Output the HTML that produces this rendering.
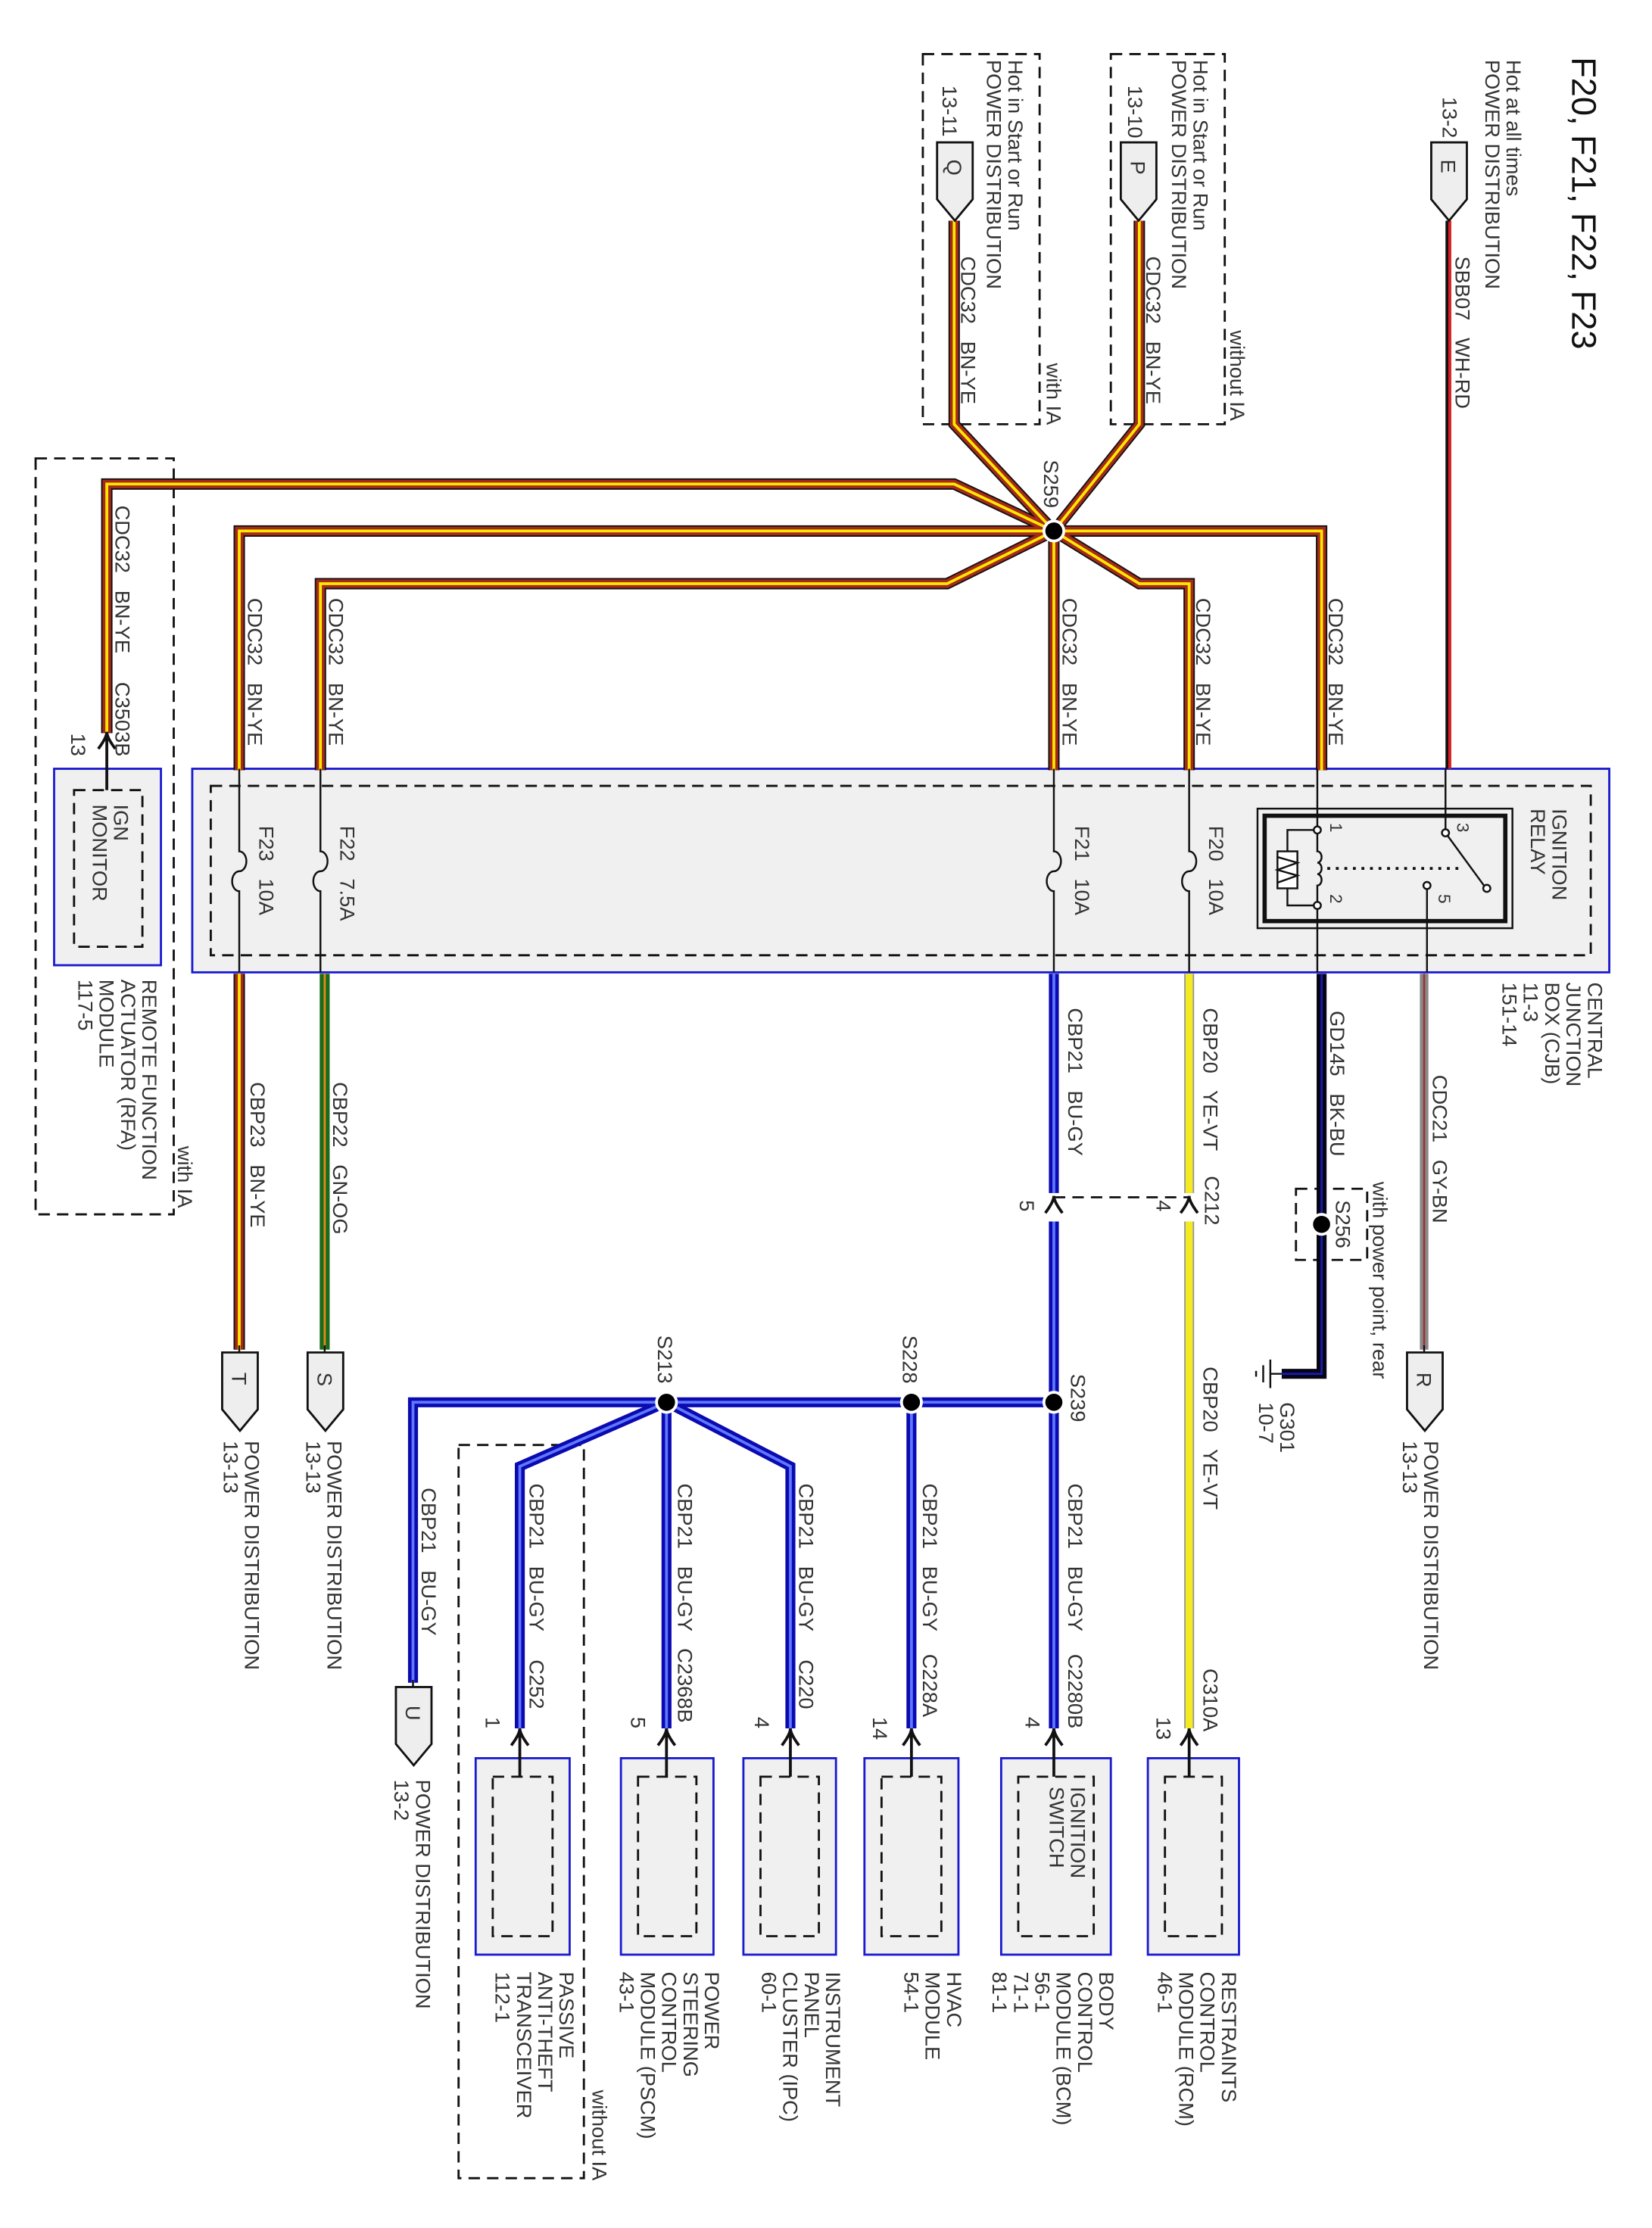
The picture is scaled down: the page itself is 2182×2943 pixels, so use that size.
<!DOCTYPE html>
<html><head><meta charset="utf-8"><style>
html,body{margin:0;padding:0;background:#fff}
svg{display:block}
text{font-family:"Liberation Sans",sans-serif;font-size:14.5px;fill:#333;white-space:pre}
.bo{fill:none;stroke:#111;stroke-width:8}
.bm{fill:none;stroke:#a52a1a;stroke-width:6}
.bi{fill:none;stroke:#ffe800;stroke-width:2}
.uo{fill:none;stroke:#0a0ab0;stroke-width:7}
.ui{fill:none;stroke:#5f78ff;stroke-width:2}
.yo{fill:none;stroke:#999;stroke-width:7}
.yi{fill:none;stroke:#f4ea20;stroke-width:5}
.thin{fill:none;stroke:#111;stroke-width:1.3}
.dash{fill:none;stroke:#111;stroke-width:1.5;stroke-dasharray:8 5}
.pent{fill:#eee;stroke:#111;stroke-width:1.5}
.mod{fill:#f0f0f0;stroke:#1a1ad0;stroke-width:1.5}
</style></head><body>
<svg width="2182" height="2943" viewBox="0 0 1160 1565" preserveAspectRatio="none" xmlns="http://www.w3.org/2000/svg" xml:space="preserve">
<defs>
<path id="w1" d="M800 155 V298 L740 373"/>
<path id="w2" d="M670 155 V298 L740 373"/>
<path id="w3" d="M740 373 L670 340 H75 V515"/>
<path id="w4" d="M740 373 H928 V541"/>
<path id="w5" d="M740 373 L800 410 H835 V541"/>
<path id="w6" d="M740 373 V541"/>
<path id="w7" d="M740 373 L665 410 H225 V541"/>
<path id="w8" d="M740 373 H168 V541"/>
<path id="w9" d="M168 684 V948"/>
<path id="u1" d="M740 684 V838 M740 858 V1214"/>
<path id="u2" d="M740 985 H290 V1182"/>
<path id="u3" d="M640 985 V1214"/>
<path id="u4" d="M468 985 L555 1030 V1214"/>
<path id="u5" d="M468 985 V1214"/>
<path id="u6" d="M468 985 L365 1030 V1214"/>
</defs>

<rect x="135" y="540" width="995" height="143" fill="#f0f0f0" stroke="#1a1ad0" stroke-width="1.5"/>
<rect x="148" y="552" width="969" height="119" class="dash" stroke-width="2"/>
<rect x="38" y="540" width="75" height="138" class="mod"/>
<rect x="52" y="555" width="48" height="110" class="dash"/>

<rect x="780" y="38" width="80" height="260" class="dash"/>
<rect x="648" y="38" width="82" height="260" class="dash"/>
<rect x="25" y="322" width="97" height="531" class="dash"/>
<rect x="910" y="835" width="50" height="50" class="dash"/>
<rect x="322" y="1015" width="88" height="515" class="dash"/>
<path d="M740 841 H835" class="dash"/>

<g class="bo"><use href="#w1"/><use href="#w2"/><use href="#w3"/><use href="#w4"/><use href="#w5"/><use href="#w6"/><use href="#w7"/><use href="#w8"/><use href="#w9"/></g>
<g class="bm"><use href="#w1"/><use href="#w2"/><use href="#w3"/><use href="#w4"/><use href="#w5"/><use href="#w6"/><use href="#w7"/><use href="#w8"/><use href="#w9"/></g>
<g class="bi"><use href="#w1"/><use href="#w2"/><use href="#w3"/><use href="#w4"/><use href="#w5"/><use href="#w6"/><use href="#w7"/><use href="#w8"/><use href="#w9"/></g>
<g class="uo"><use href="#u1"/><use href="#u2"/><use href="#u3"/><use href="#u4"/><use href="#u5"/><use href="#u6"/></g>
<g class="ui"><use href="#u1"/><use href="#u2"/><use href="#u3"/><use href="#u4"/><use href="#u5"/><use href="#u6"/></g>
<path d="M835 684 V838 M835 858 V1214" class="yo"/><path d="M835 684 V838 M835 858 V1214" class="yi"/>
<path d="M228 684 V948" fill="none" stroke="#1a6a1a" stroke-width="7"/><path d="M228 684 V948" fill="none" stroke="#e08a20" stroke-width="1.5"/>
<path d="M1000 684 V948" fill="none" stroke="#888" stroke-width="6"/><path d="M1000 684 V948" fill="none" stroke="#a03030" stroke-width="1.3"/>
<path d="M928 684 V965 H900" fill="none" stroke="#050515" stroke-width="7"/><path d="M928 684 V965 H900" fill="none" stroke="#1a1ab0" stroke-width="1.5"/>
<path d="M1017 155 V540" fill="none" stroke="#111" stroke-width="4"/><path d="M1018 155 V540" fill="none" stroke="#e02020" stroke-width="2"/>

<g fill="#000" stroke="#fff" stroke-width="2">
<circle cx="740" cy="373" r="7"/><circle cx="928" cy="860" r="7"/>
<circle cx="740" cy="985" r="7"/><circle cx="640" cy="985" r="7"/><circle cx="468" cy="985" r="7"/>
</g>

<g class="thin"><path d="M900 965 H892 M892 955 V975 M887 959 V971 M882 963 V967"/></g>

<g class="thin">
<path d="M168 540 V598 a5 7 0 0 1 0 14 a5 7 0 0 0 0 14 V683"/>
<path d="M225 540 V598 a5 7 0 0 1 0 14 a5 7 0 0 0 0 14 V683"/>
<path d="M740 540 V598 a5 7 0 0 1 0 14 a5 7 0 0 0 0 14 V683"/>
<path d="M835 540 V598 a5 7 0 0 1 0 14 a5 7 0 0 0 0 14 V683"/>
<path d="M75 515 V555"/>
</g>
<rect x="883" y="568" width="179" height="84" fill="none" stroke="#111" stroke-width="1.3"/>
<rect x="888" y="573" width="169" height="74" fill="none" stroke="#111" stroke-width="3"/>
<g class="thin">
<path d="M925 540 V583"/>
<path d="M925 583 V598 a3 4 0 0 1 0 8 a3 4 0 0 1 0 8 a3 4 0 0 1 0 8 V636 V683"/>
<path d="M925 583 H904 V636 H925"/>
<rect x="897" y="598" width="14" height="26" fill="#fff"/>
<path d="M897 602 L911 606 L897 611 L911 615 L897 620"/>
<path d="M1015 540 V585 L1042 622"/>
<path d="M1002 622 V683"/>
<path d="M932 610 H1025" stroke-dasharray="2 4" stroke-width="2"/>
</g>
<g fill="#fff" stroke="#111" stroke-width="1.3"><circle cx="925" cy="583" r="2.5"/><circle cx="925" cy="636" r="2.5"/><circle cx="1015" cy="585" r="2.5"/><circle cx="1002" cy="622" r="2.5"/><circle cx="1044" cy="624" r="2.5"/></g>

<g class="pent">
<path d="M1005 100 H1030 V140 L1017.5 155 L1005 140 Z"/>
<path d="M787 100 H812 V140 L799.5 155 L787 140 Z"/>
<path d="M658 100 H683 V140 L670.5 155 L658 140 Z"/>
<path d="M988 950 H1013 V990 L1000.5 1005 L988 990 Z"/>
<path d="M216 950 H241 V990 L228.5 1005 L216 990 Z"/>
<path d="M156 950 H181 V990 L168.5 1005 L156 990 Z"/>
<path d="M278 1185 H303 V1225 L290.5 1240 L278 1225 Z"/>
</g>
<g class="thin"><path d="M1000 945 V950 M228 945 V950 M168 945 V950 M290 1180 V1185"/></g>

<g>
<rect x="806" y="1235" width="64" height="138" class="mod"/><rect x="818" y="1248" width="40" height="112" class="dash"/>
<rect x="703" y="1235" width="77" height="138" class="mod"/><rect x="715" y="1248" width="53" height="112" class="dash"/>
<rect x="607" y="1235" width="66" height="138" class="mod"/><rect x="619" y="1248" width="42" height="112" class="dash"/>
<rect x="522" y="1235" width="65" height="138" class="mod"/><rect x="534" y="1248" width="41" height="112" class="dash"/>
<rect x="436" y="1235" width="65" height="138" class="mod"/><rect x="448" y="1248" width="41" height="112" class="dash"/>
<rect x="334" y="1235" width="66" height="138" class="mod"/><rect x="346" y="1248" width="42" height="112" class="dash"/>
</g>
<g fill="none" stroke="#111" stroke-width="2">
<path d="M829 1226 Q835 1218 835 1214 Q835 1218 841 1226 M835 1214 V1248"/>
<path d="M734 1226 Q740 1218 740 1214 Q740 1218 746 1226 M740 1214 V1248"/>
<path d="M634 1226 Q640 1218 640 1214 Q640 1218 646 1226 M640 1214 V1248"/>
<path d="M549 1226 Q555 1218 555 1214 Q555 1218 561 1226 M555 1214 V1248"/>
<path d="M462 1226 Q468 1218 468 1214 Q468 1218 474 1226 M468 1214 V1248"/>
<path d="M359 1226 Q365 1218 365 1214 Q365 1218 371 1226 M365 1214 V1248"/>
<path d="M69 526 Q75 518 75 514 Q75 518 81 526 M75 514 V555"/>
<path d="M829 852 Q835 844 835 840 Q835 844 841 852"/>
<path d="M734 852 Q740 844 740 840 Q740 844 746 852"/>
</g>

<g>
<text transform="translate(1104,40) rotate(90)" style="font-size:24px;fill:#111">F20, F21, F22, F23</text>
<text transform="translate(1058,42) rotate(90)">Hot at all times</text>
<text transform="translate(1043,42) rotate(90)">POWER DISTRIBUTION</text>
<text transform="translate(1013,68) rotate(90)">13-2</text>
<text transform="translate(1022,180) rotate(90)">SBB07   WH-RD</text>
<text transform="translate(838,42) rotate(90)">Hot in Start or Run</text>
<text transform="translate(823,42) rotate(90)">POWER DISTRIBUTION</text>
<text transform="translate(792,60) rotate(90)">13-10</text>
<text transform="translate(805,180) rotate(90)">CDC32   BN-YE</text>
<text transform="translate(864,232) rotate(90)">without IA</text>
<text transform="translate(708,42) rotate(90)">Hot in Start or Run</text>
<text transform="translate(693,42) rotate(90)">POWER DISTRIBUTION</text>
<text transform="translate(662,60) rotate(90)">13-11</text>
<text transform="translate(675,180) rotate(90)">CDC32   BN-YE</text>
<text transform="translate(735,255) rotate(90)">with IA</text>
<text transform="translate(733,323) rotate(90)">S259</text>
<text transform="translate(81,355) rotate(90)">CDC32   BN-YE     C3503B</text>
<text transform="translate(50,515) rotate(90)">13</text>
<text transform="translate(933,420) rotate(90)">CDC32   BN-YE</text>
<text transform="translate(840,420) rotate(90)">CDC32   BN-YE</text>
<text transform="translate(746,420) rotate(90)">CDC32   BN-YE</text>
<text transform="translate(231,420) rotate(90)">CDC32   BN-YE</text>
<text transform="translate(174,420) rotate(90)">CDC32   BN-YE</text>
<text transform="translate(849,580) rotate(90)">F20   10A</text>
<text transform="translate(755,580) rotate(90)">F21   10A</text>
<text transform="translate(239,580) rotate(90)">F22   7.5A</text>
<text transform="translate(182,580) rotate(90)">F23   10A</text>
<text transform="translate(1090,568) rotate(90)">IGNITION</text>
<text transform="translate(1075,568) rotate(90)">RELAY</text>
<text transform="translate(934,578) rotate(90)" style="font-size:12px">1</text>
<text transform="translate(934,628) rotate(90)" style="font-size:12px">2</text>
<text transform="translate(1023,578) rotate(90)" style="font-size:12px">3</text>
<text transform="translate(1010,628) rotate(90)" style="font-size:12px">5</text>
<text transform="translate(1115,690) rotate(90)">CENTRAL</text>
<text transform="translate(1100,690) rotate(90)">JUNCTION</text>
<text transform="translate(1085,690) rotate(90)">BOX (CJB)</text>
<text transform="translate(1070,690) rotate(90)">11-3</text>
<text transform="translate(1055,690) rotate(90)">151-14</text>
<text transform="translate(80,565) rotate(90)">IGN</text>
<text transform="translate(65,565) rotate(90)">MONITOR</text>
<text transform="translate(100,688) rotate(90)">REMOTE FUNCTION</text>
<text transform="translate(85,688) rotate(90)">ACTUATOR (RFA)</text>
<text transform="translate(70,688) rotate(90)">MODULE</text>
<text transform="translate(55,688) rotate(90)">117-5</text>
<text transform="translate(125,805) rotate(90)">with IA</text>
<text transform="translate(1006,755) rotate(90)">CDC21   GY-BN</text>
<text transform="translate(964,830) rotate(90)">with power point, rear</text>
<text transform="translate(1000,1012) rotate(90)">POWER DISTRIBUTION</text>
<text transform="translate(985,1012) rotate(90)">13-13</text>
<text transform="translate(934,710) rotate(90)">GD145   BK-BU</text>
<text transform="translate(938,843) rotate(90)">S256</text>
<text transform="translate(899,985) rotate(90)">G301</text>
<text transform="translate(884,985) rotate(90)">10-7</text>
<text transform="translate(845,708) rotate(90)">CBP20   YE-VT</text>
<text transform="translate(846,826) rotate(90)">C212</text>
<text transform="translate(812,843) rotate(90)">4</text>
<text transform="translate(845,960) rotate(90)">CBP20   YE-VT</text>
<text transform="translate(845,1172) rotate(90)">C310A</text>
<text transform="translate(812,1206) rotate(90)">13</text>
<text transform="translate(750,708) rotate(90)">CBP21   BU-GY</text>
<text transform="translate(716,843) rotate(90)">5</text>
<text transform="translate(752,965) rotate(90)">S239</text>
<text transform="translate(750,1042) rotate(90)">CBP21   BU-GY    C2280B</text>
<text transform="translate(720,1206) rotate(90)">4</text>
<text transform="translate(634,938) rotate(90)">S228</text>
<text transform="translate(648,1042) rotate(90)">CBP21   BU-GY    C228A</text>
<text transform="translate(613,1206) rotate(90)">14</text>
<text transform="translate(462,938) rotate(90)">S213</text>
<text transform="translate(561,1042) rotate(90)">CBP21   BU-GY     C220</text>
<text transform="translate(530,1206) rotate(90)">4</text>
<text transform="translate(476,1042) rotate(90)">CBP21   BU-GY   C2368B</text>
<text transform="translate(443,1206) rotate(90)">5</text>
<text transform="translate(372,1042) rotate(90)">CBP21   BU-GY     C252</text>
<text transform="translate(341,1206) rotate(90)">1</text>
<text transform="translate(296,1045) rotate(90)">CBP21   BU-GY</text>
<text transform="translate(292,1250) rotate(90)">POWER DISTRIBUTION</text>
<text transform="translate(277,1250) rotate(90)">13-2</text>
<text transform="translate(234,760) rotate(90)">CBP22   GN-OG</text>
<text transform="translate(176,760) rotate(90)">CBP23   BN-YE</text>
<text transform="translate(230,1012) rotate(90)">POWER DISTRIBUTION</text>
<text transform="translate(215,1012) rotate(90)">13-13</text>
<text transform="translate(172,1012) rotate(90)">POWER DISTRIBUTION</text>
<text transform="translate(157,1012) rotate(90)">13-13</text>
<text transform="translate(1012,112) rotate(90)">E</text>
<text transform="translate(794,113) rotate(90)">P</text>
<text transform="translate(665,112) rotate(90)">Q</text>
<text transform="translate(995,964) rotate(90)">R</text>
<text transform="translate(223,964) rotate(90)">S</text>
<text transform="translate(163,964) rotate(90)">T</text>
<text transform="translate(285,1198) rotate(90)">U</text>
<text transform="translate(858,1385) rotate(90)">RESTRAINTS</text>
<text transform="translate(843,1385) rotate(90)">CONTROL</text>
<text transform="translate(828,1385) rotate(90)">MODULE (RCM)</text>
<text transform="translate(813,1385) rotate(90)">46-1</text>
<text transform="translate(772,1385) rotate(90)">BODY</text>
<text transform="translate(757,1385) rotate(90)">CONTROL</text>
<text transform="translate(742,1385) rotate(90)">MODULE (BCM)</text>
<text transform="translate(727,1385) rotate(90)">56-1</text>
<text transform="translate(712,1385) rotate(90)">71-1</text>
<text transform="translate(697,1385) rotate(90)">81-1</text>
<text transform="translate(752,1255) rotate(90)">IGNITION</text>
<text transform="translate(737,1255) rotate(90)">SWITCH</text>
<text transform="translate(665,1385) rotate(90)">HVAC</text>
<text transform="translate(650,1385) rotate(90)">MODULE</text>
<text transform="translate(635,1385) rotate(90)">54-1</text>
<text transform="translate(580,1385) rotate(90)">INSTRUMENT</text>
<text transform="translate(565,1385) rotate(90)">PANEL</text>
<text transform="translate(550,1385) rotate(90)">CLUSTER (IPC)</text>
<text transform="translate(535,1385) rotate(90)">60-1</text>
<text transform="translate(495,1385) rotate(90)">POWER</text>
<text transform="translate(480,1385) rotate(90)">STEERING</text>
<text transform="translate(465,1385) rotate(90)">CONTROL</text>
<text transform="translate(450,1385) rotate(90)">MODULE (PSCM)</text>
<text transform="translate(435,1385) rotate(90)">43-1</text>
<text transform="translate(393,1385) rotate(90)">PASSIVE</text>
<text transform="translate(378,1385) rotate(90)">ANTI-THEFT</text>
<text transform="translate(363,1385) rotate(90)">TRANSCEIVER</text>
<text transform="translate(348,1385) rotate(90)">112-1</text>
<text transform="translate(416,1468) rotate(90)">without IA</text>
</g>
</svg>
</body></html>
